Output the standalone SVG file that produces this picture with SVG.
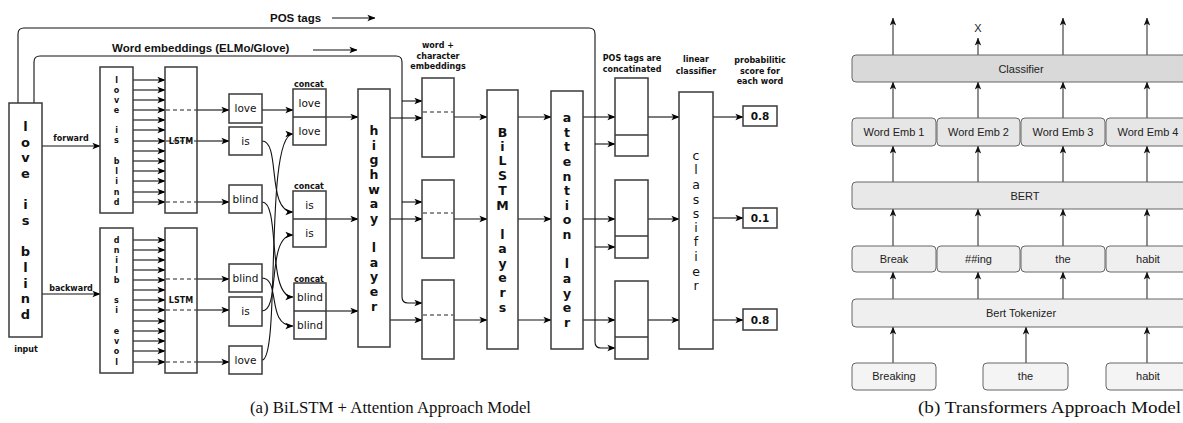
<svg xmlns="http://www.w3.org/2000/svg" width="1183" height="423" viewBox="0 0 1183 423">
<style>
.bx{fill:#fff;stroke:#3a3a3a;stroke-width:1.5}
.ln{fill:none;stroke:#111;stroke-width:1.1}
.dl{fill:none;stroke:#222;stroke-width:1.1;stroke-dasharray:4 3}
.ar{marker-end:url(#ah)}
.wd{font-family:"DejaVu Sans",sans-serif;font-size:10.5px;fill:#111;text-anchor:middle}
.sm{font-family:"DejaVu Sans",sans-serif;font-size:8px;font-weight:bold;fill:#111;text-anchor:middle}
.lb{font-family:"DejaVu Sans",sans-serif;font-size:8px;font-weight:bold;fill:#111;text-anchor:middle}
.big{font-family:"DejaVu Sans",sans-serif;font-size:13px;font-weight:bold;fill:#111;text-anchor:middle}
.col{font-family:"DejaVu Sans",sans-serif;font-size:12.5px;font-weight:bold;fill:#111;text-anchor:middle}
.colr{font-family:"DejaVu Sans",sans-serif;font-size:12.5px;fill:#111;text-anchor:middle}
.hd{font-family:"Liberation Sans",Arial,sans-serif;font-size:11.5px;font-weight:bold;fill:#111}
.rb{stroke:#666;stroke-width:1}
.rt{font-family:"Liberation Sans",Arial,sans-serif;font-size:11px;fill:#222;text-anchor:middle}
.rl{fill:none;stroke:#444;stroke-width:1.2;marker-end:url(#ah2)}
.cap{font-family:"Liberation Serif","Times New Roman",serif;font-size:17px;fill:#111}
</style>
<defs>
<marker id="ah" viewBox="0 0 10 10" refX="9.5" refY="5" markerWidth="8" markerHeight="8" markerUnits="userSpaceOnUse" orient="auto"><path d="M0,1 L10,5 L0,9 L2.5,5 z" fill="#000"/></marker>
<marker id="ah2" viewBox="0 0 10 10" refX="9.5" refY="5" markerWidth="8" markerHeight="8" markerUnits="userSpaceOnUse" orient="auto"><path d="M0,1 L10,5 L0,9 L2.5,5 z" fill="#111"/></marker>
</defs>
<rect width="1183" height="423" fill="#fff"/>

<!-- ===== (a) left diagram ===== -->
<g id="connectors-a">
  <path class="ln ar" d="M18,103 V34 Q18,28 24,28 H589 Q595,28 595,34 V342 Q595,348 601,348 H615"/>
  <path class="ln ar" d="M595,144 H615"/>
  <path class="ln ar" d="M595,247 H615"/>
  <path class="ln ar" d="M34,103 V62 Q34,56 40,56 H396 Q402,56 402,62 V297 Q402,303 408,303 H422"/>
  <path class="ln ar" d="M402,101 H422"/>
  <path class="ln ar" d="M402,202 H422"/>
  <path class="ln ar" d="M332,18 H375"/>
  <path class="ln ar" d="M313,50 H357"/>
  <path class="ln ar" d="M42,146 H100"/>
  <path class="ln ar" d="M42,294 H100"/>
  <path class="ln ar" d="M133,80 H165"/><path class="ln ar" d="M133,90 H165"/><path class="ln ar" d="M133,100 H165"/>
  <path class="ln ar" d="M133,110 H165"/><path class="ln ar" d="M133,120 H165"/><path class="ln ar" d="M133,130 H165"/>
  <path class="ln ar" d="M133,141 H165"/><path class="ln ar" d="M133,151 H165"/><path class="ln ar" d="M133,161 H165"/>
  <path class="ln ar" d="M133,171 H165"/><path class="ln ar" d="M133,181 H165"/><path class="ln ar" d="M133,192 H165"/>
  <path class="ln ar" d="M133,202 H165"/>
  <path class="ln ar" d="M133,240 H165"/><path class="ln ar" d="M133,250 H165"/><path class="ln ar" d="M133,260 H165"/>
  <path class="ln ar" d="M133,270 H165"/><path class="ln ar" d="M133,280 H165"/><path class="ln ar" d="M133,290 H165"/>
  <path class="ln ar" d="M133,300 H165"/><path class="ln ar" d="M133,310 H165"/><path class="ln ar" d="M133,321 H165"/>
  <path class="ln ar" d="M133,331 H165"/><path class="ln ar" d="M133,341 H165"/><path class="ln ar" d="M133,351 H165"/>
  <path class="ln ar" d="M133,362 H165"/>
  <path class="dl" d="M166,110 H197 M166,141 H197 M166,202 H197"/>
  <path class="dl" d="M166,279 H197 M166,310 H197 M166,362 H197"/>
  <path class="ln ar" d="M197,110 H229"/><path class="ln ar" d="M197,141 H229"/><path class="ln ar" d="M197,202 H229"/>
  <path class="ln ar" d="M197,279 H229"/><path class="ln ar" d="M197,310 H229"/><path class="ln ar" d="M197,362 H229"/>
  <path class="ln ar" d="M262,110 H293"/>
  <path class="ln ar" d="M262,141 C281,141 266,212 293,212"/>
  <path class="ln ar" d="M262,202 C281,202 266,297 293,297"/>
  <path class="ln ar" d="M262,360 C281,360 264,134 293,134"/>
  <path class="ln ar" d="M262,311 C281,311 266,235 293,235"/>
  <path class="ln ar" d="M262,278 C281,278 266,326 293,326"/>
  <path class="ln ar" d="M326,117 H358"/><path class="ln ar" d="M326,219 H358"/><path class="ln ar" d="M326,311 H358"/>
  <path class="ln ar" d="M390,118 H422"/><path class="ln ar" d="M390,219 H422"/><path class="ln ar" d="M390,320 H422"/>
  <path class="ln ar" d="M454,117 H487"/><path class="ln ar" d="M454,219 H487"/><path class="ln ar" d="M454,320 H487"/>
  <path class="ln ar" d="M518,117 H551"/><path class="ln ar" d="M518,219 H551"/><path class="ln ar" d="M518,320 H551"/>
  <path class="ln ar" d="M583,117 H615"/><path class="ln ar" d="M583,219 H615"/><path class="ln ar" d="M583,320 H615"/>
  <path class="ln ar" d="M648,117 H679"/><path class="ln ar" d="M648,219 H679"/><path class="ln ar" d="M648,320 H679"/>
  <path class="ln ar" d="M713,117 H743"/><path class="ln ar" d="M713,218 H743"/><path class="ln ar" d="M713,320 H743"/>
</g>

<g id="labels-a">
  <text class="hd" x="270" y="22">POS tags</text>
  <text class="hd" x="112" y="52">Word embeddings (ELMo/Glove)</text>
  <text class="lb" x="71" y="141">forward</text>
  <text class="lb" x="71" y="291">backward</text>
  <text class="lb" x="26" y="352">input</text>
  <text class="lb" x="309" y="87">concat</text>
  <text class="lb" x="309" y="189">concat</text>
  <text class="lb" x="309" y="282">concat</text>
  <text class="lb" x="438" y="48">word +</text>
  <text class="lb" x="438" y="59">character</text>
  <text class="lb" x="438" y="69">embeddings</text>
  <text class="lb" x="632" y="61">POS tags are</text>
  <text class="lb" x="632" y="72">concatinated</text>
  <text class="lb" x="696" y="62">linear</text>
  <text class="lb" x="696" y="74">classifier</text>
  <text class="lb" x="760" y="63">probabilitic</text>
  <text class="lb" x="760" y="74">score for</text>
  <text class="lb" x="760" y="84">each word</text>
</g>

<g id="input">
  <rect class="bx" x="9" y="103" width="33" height="234"/>
  <text class="big"><tspan x="25.5" y="131">l</tspan><tspan x="25.5" y="147">o</tspan><tspan x="25.5" y="162">v</tspan><tspan x="25.5" y="178">e</tspan><tspan x="25.5" y="209">i</tspan><tspan x="25.5" y="225">s</tspan><tspan x="25.5" y="256">b</tspan><tspan x="25.5" y="272">l</tspan><tspan x="25.5" y="288">i</tspan><tspan x="25.5" y="303">n</tspan><tspan x="25.5" y="319">d</tspan></text>
</g>

<g id="fwd-letters">
  <rect class="bx" x="100" y="67" width="33" height="146"/>
  <text class="sm"><tspan x="116.5" y="83">l</tspan><tspan x="116.5" y="93">o</tspan><tspan x="116.5" y="103">v</tspan><tspan x="116.5" y="113">e</tspan><tspan x="116.5" y="133">i</tspan><tspan x="116.5" y="143">s</tspan><tspan x="116.5" y="164">b</tspan><tspan x="116.5" y="174">l</tspan><tspan x="116.5" y="184">i</tspan><tspan x="116.5" y="195">n</tspan><tspan x="116.5" y="205">d</tspan></text>
</g>
<g id="bwd-letters">
  <rect class="bx" x="100" y="228" width="33" height="145"/>
  <text class="sm"><tspan x="116.5" y="243">d</tspan><tspan x="116.5" y="253">n</tspan><tspan x="116.5" y="263">i</tspan><tspan x="116.5" y="273">l</tspan><tspan x="116.5" y="283">b</tspan><tspan x="116.5" y="303">s</tspan><tspan x="116.5" y="313">i</tspan><tspan x="116.5" y="334">e</tspan><tspan x="116.5" y="344">v</tspan><tspan x="116.5" y="354">o</tspan><tspan x="116.5" y="365">l</tspan></text>
</g>
<g id="fwd-lstm">
  <rect class="bx" x="165" y="67" width="32" height="146" fill-opacity="0"/>
  <text class="lb" x="181" y="144">LSTM</text>
</g>
<g id="bwd-lstm">
  <rect class="bx" x="165" y="228" width="32" height="145" fill-opacity="0"/>
  <text class="lb" x="181" y="303">LSTM</text>
</g>

<g id="fwd-love"><rect class="bx" x="229" y="94" width="33" height="29"/><text class="wd" x="245.5" y="112">love</text></g>
<g id="fwd-is"><rect class="bx" x="229" y="127" width="33" height="28"/><text class="wd" x="245.5" y="145">is</text></g>
<g id="fwd-blind"><rect class="bx" x="229" y="185" width="33" height="28"/><text class="wd" x="245.5" y="203">blind</text></g>
<g id="bwd-blind"><rect class="bx" x="229" y="264" width="33" height="28"/><text class="wd" x="245.5" y="282">blind</text></g>
<g id="bwd-is"><rect class="bx" x="229" y="297" width="33" height="29"/><text class="wd" x="245.5" y="315">is</text></g>
<g id="bwd-love"><rect class="bx" x="229" y="346" width="33" height="28"/><text class="wd" x="245.5" y="364">love</text></g>

<g id="concat1">
  <rect class="bx" x="293" y="89" width="33" height="56"/><path class="bx" d="M293,117 H326"/>
  <text class="wd" x="309.5" y="107">love</text><text class="wd" x="309.5" y="135">love</text>
</g>
<g id="concat2">
  <rect class="bx" x="293" y="191" width="33" height="56"/><path class="bx" d="M293,219 H326"/>
  <text class="wd" x="309.5" y="209">is</text><text class="wd" x="309.5" y="237">is</text>
</g>
<g id="concat3">
  <rect class="bx" x="294" y="283" width="32" height="56"/><path class="bx" d="M294,311 H326"/>
  <text class="wd" x="310" y="301">blind</text><text class="wd" x="310" y="329">blind</text>
</g>

<g id="highway">
  <rect class="bx" x="358" y="89" width="32" height="258"/>
  <text class="col"><tspan x="374" y="135">h</tspan><tspan x="374" y="150">i</tspan><tspan x="374" y="164">g</tspan><tspan x="374" y="179">h</tspan><tspan x="374" y="194">w</tspan><tspan x="374" y="208">a</tspan><tspan x="374" y="223">y</tspan><tspan x="374" y="252">l</tspan><tspan x="374" y="267">a</tspan><tspan x="374" y="281">y</tspan><tspan x="374" y="296">e</tspan><tspan x="374" y="311">r</tspan></text>
</g>

<g id="wc1"><rect class="bx" x="422" y="78" width="32" height="79"/><path class="dl" d="M423,112 H453"/></g>
<g id="wc2"><rect class="bx" x="422" y="180" width="32" height="78"/><path class="dl" d="M423,213 H453"/></g>
<g id="wc3"><rect class="bx" x="422" y="280" width="32" height="79"/><path class="dl" d="M423,315 H453"/></g>

<g id="bilstm">
  <rect class="bx" x="487" y="90" width="31" height="259"/>
  <text class="col"><tspan x="502.5" y="137">B</tspan><tspan x="502.5" y="151">i</tspan><tspan x="502.5" y="165">L</tspan><tspan x="502.5" y="180">S</tspan><tspan x="502.5" y="195">T</tspan><tspan x="502.5" y="210">M</tspan><tspan x="502.5" y="239">l</tspan><tspan x="502.5" y="253">a</tspan><tspan x="502.5" y="268">y</tspan><tspan x="502.5" y="282">e</tspan><tspan x="502.5" y="297">r</tspan><tspan x="502.5" y="312">s</tspan></text>
</g>

<g id="attention">
  <rect class="bx" x="551" y="91" width="32" height="258"/>
  <text class="col"><tspan x="567" y="122">a</tspan><tspan x="567" y="137">t</tspan><tspan x="567" y="151">t</tspan><tspan x="567" y="166">e</tspan><tspan x="567" y="181">n</tspan><tspan x="567" y="195">t</tspan><tspan x="567" y="210">i</tspan><tspan x="567" y="224">o</tspan><tspan x="567" y="239">n</tspan><tspan x="567" y="268">l</tspan><tspan x="567" y="283">a</tspan><tspan x="567" y="298">y</tspan><tspan x="567" y="312">e</tspan><tspan x="567" y="327">r</tspan></text>
</g>

<g id="pos1"><rect class="bx" x="615" y="78" width="33" height="78"/><path class="bx" d="M615,135 H648"/></g>
<g id="pos2"><rect class="bx" x="615" y="180" width="33" height="78"/><path class="bx" d="M615,236 H648"/></g>
<g id="pos3"><rect class="bx" x="615" y="281" width="33" height="78"/><path class="bx" d="M615,337 H648"/></g>

<g id="classifier-a">
  <rect class="bx" x="679" y="92" width="34" height="257"/>
  <text class="colr"><tspan x="696" y="160">c</tspan><tspan x="696" y="174">l</tspan><tspan x="696" y="189">a</tspan><tspan x="696" y="204">s</tspan><tspan x="696" y="218">s</tspan><tspan x="696" y="232">i</tspan><tspan x="696" y="246">f</tspan><tspan x="696" y="261">i</tspan><tspan x="696" y="276">e</tspan><tspan x="696" y="290">r</tspan></text>
</g>

<g id="out1"><rect class="bx" x="743" y="106" width="34" height="20"/><text class="wd" x="760" y="120" font-weight="bold">0.8</text></g>
<g id="out2"><rect class="bx" x="743" y="208" width="34" height="20"/><text class="wd" x="760" y="222" font-weight="bold">0.1</text></g>
<g id="out3"><rect class="bx" x="743" y="309" width="34" height="21"/><text class="wd" x="760" y="324" font-weight="bold">0.8</text></g>

<!-- ===== (b) right diagram ===== -->
<g id="connectors-b">
  <path class="rl" d="M893,55 V18"/><path class="rl" d="M978,55 V38"/><path class="rl" d="M1063,55 V18"/><path class="rl" d="M1147,55 V18"/>
  <path class="rl" d="M893,118 V82"/><path class="rl" d="M978,118 V82"/><path class="rl" d="M1063,118 V82"/><path class="rl" d="M1147,118 V82"/>
  <path class="rl" d="M893,182 V146"/><path class="rl" d="M978,182 V146"/><path class="rl" d="M1063,182 V146"/><path class="rl" d="M1147,182 V146"/>
  <path class="rl" d="M893,246 V209"/><path class="rl" d="M978,246 V209"/><path class="rl" d="M1063,246 V209"/><path class="rl" d="M1147,246 V209"/>
  <path class="rl" d="M893,299 V272"/><path class="rl" d="M978,299 V272"/><path class="rl" d="M1063,299 V272"/><path class="rl" d="M1147,299 V272"/>
  <path class="rl" d="M893,363 V327"/><path class="rl" d="M1026,363 V327"/><path class="rl" d="M1147,363 V327"/>
  <text class="rt" x="978" y="32">X</text>
</g>
<g id="classifier-b"><rect class="rb" x="852" y="55" width="345" height="27" rx="4" fill="#d9d9d9"/><text class="rt" x="1021" y="73">Classifier</text></g>
<g id="emb1"><rect class="rb" x="852" y="118" width="84" height="28" rx="4" fill="#e6e6e6"/><text class="rt" x="894" y="136">Word Emb 1</text></g>
<g id="emb2"><rect class="rb" x="937" y="118" width="83" height="28" rx="4" fill="#e6e6e6"/><text class="rt" x="978.5" y="136">Word Emb 2</text></g>
<g id="emb3"><rect class="rb" x="1021" y="118" width="84" height="28" rx="4" fill="#e6e6e6"/><text class="rt" x="1063" y="136">Word Emb 3</text></g>
<g id="emb4"><rect class="rb" x="1106" y="118" width="84" height="28" rx="4" fill="#e6e6e6"/><text class="rt" x="1148" y="136">Word Emb 4</text></g>
<g id="bert"><rect class="rb" x="852" y="182" width="345" height="27" rx="4" fill="#e8e8e8"/><text class="rt" x="1025" y="200">BERT</text></g>
<g id="tok1"><rect class="rb" x="852" y="246" width="84" height="26" rx="4" fill="#efefef"/><text class="rt" x="894" y="263">Break</text></g>
<g id="tok2"><rect class="rb" x="937" y="246" width="83" height="26" rx="4" fill="#efefef"/><text class="rt" x="978.5" y="263">##ing</text></g>
<g id="tok3"><rect class="rb" x="1021" y="246" width="84" height="26" rx="4" fill="#efefef"/><text class="rt" x="1063" y="263">the</text></g>
<g id="tok4"><rect class="rb" x="1106" y="246" width="84" height="26" rx="4" fill="#efefef"/><text class="rt" x="1148" y="263">habit</text></g>
<g id="tokenizer"><rect class="rb" x="852" y="299" width="345" height="28" rx="4" fill="#efefef"/><text class="rt" x="1021" y="317">Bert Tokenizer</text></g>
<g id="in1"><rect class="rb" x="852" y="363" width="84" height="27" rx="4" fill="#f4f4f4"/><text class="rt" x="894" y="380">Breaking</text></g>
<g id="in2"><rect class="rb" x="983" y="363" width="85" height="27" rx="4" fill="#f4f4f4"/><text class="rt" x="1025.5" y="380">the</text></g>
<g id="in3"><rect class="rb" x="1106" y="363" width="84" height="27" rx="4" fill="#f4f4f4"/><text class="rt" x="1148" y="380">habit</text></g>

<text class="cap" x="250" y="413" textLength="281" lengthAdjust="spacingAndGlyphs">(a) BiLSTM + Attention Approach Model</text>
<text class="cap" x="918" y="413" textLength="263" lengthAdjust="spacingAndGlyphs">(b) Transformers Approach Model</text>
</svg>
